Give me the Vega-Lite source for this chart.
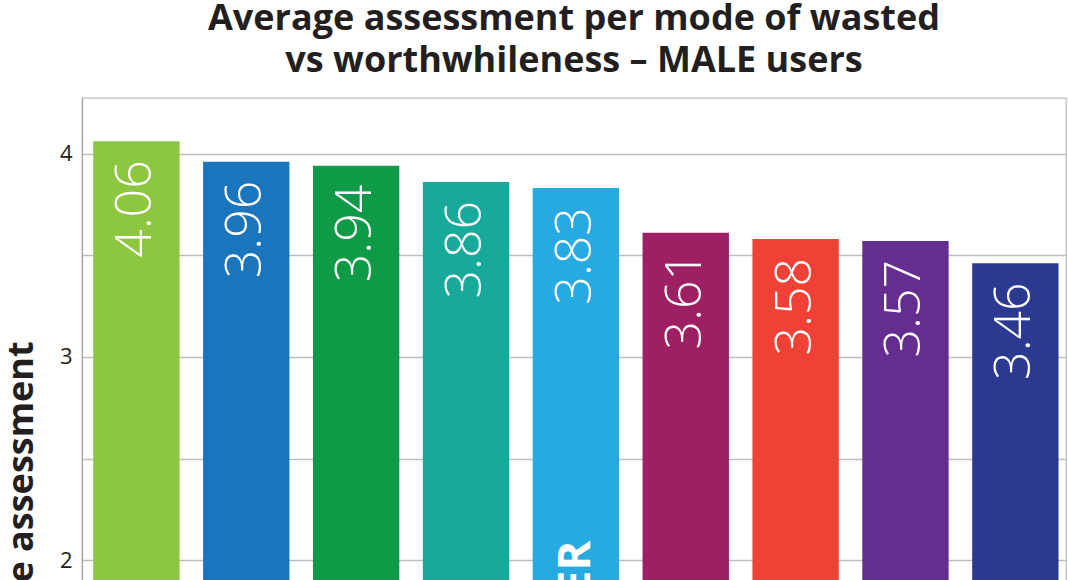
{
  "$schema": "https://vega.github.io/schema/vega-lite/v6.json",
  "autosize": {"type": "none"},
  "width": 984,
  "height": 869,
  "padding": {"left": 82, "top": 98, "right": 2, "bottom": 0},
  "background": "white",
  "title": {
    "text": ["Average assessment per mode of wasted", "vs worthwhileness – MALE users"],
    "anchor": "middle",
    "font": "Open Sans",
    "fontSize": 36,
    "fontWeight": 700,
    "color": "#231f20",
    "lineHeight": 42,
    "baseline": "bottom",
    "offset": 19,
    "dy": 37
  },
  "config": {
    "view": {"stroke": "#bcbec0", "strokeWidth": 1.3},
    "font": "Open Sans"
  },
  "data": {
    "values": [
      {"mode": "WALK", "value": 4.06, "colour": "c1"},
      {"mode": "BIKE", "value": 3.96, "colour": "c2"},
      {"mode": "TRAIN", "value": 3.94, "colour": "c3"},
      {"mode": "TRAM", "value": 3.86, "colour": "c4"},
      {"mode": "CAR PASSENGER", "value": 3.83, "colour": "c5"},
      {"mode": "BUS", "value": 3.61, "colour": "c6"},
      {"mode": "CAR DRIVER", "value": 3.58, "colour": "c7"},
      {"mode": "MOTORBIKE", "value": 3.57, "colour": "c8"},
      {"mode": "OTHER", "value": 3.46, "colour": "c9"}
    ]
  },
  "encoding": {
    "x": {
      "field": "mode",
      "type": "nominal",
      "sort": null,
      "axis": null,
      "scale": {"paddingInner": 0.214, "paddingOuter": 0.085, "align": 0.6}
    }
  },
  "layer": [
    {
      "mark": {"type": "bar"},
      "encoding": {
        "y": {
          "field": "value",
          "type": "quantitative",
          "scale": {"domain": [0, 4.273], "nice": false, "zero": true},
          "axis": {
            "values": [0, 0.5, 1, 1.5, 2, 2.5, 3, 3.5, 4],
            "labelExpr": "datum.value % 1 === 0 ? format(datum.value, 'd') : ''",
            "grid": true,
            "gridColor": "#bcbec0",
            "gridWidth": 1.3,
            "domainColor": "#a7a9ac",
            "domainWidth": 1.3,
            "ticks": false,
            "labelPadding": 10,
            "labelFont": "Open Sans",
            "labelFontSize": 22,
            "labelColor": "#231f20",
            "title": "Average assessment",
            "titleFont": "Open Sans",
            "titleFontSize": 36,
            "titleFontWeight": 700,
            "titleColor": "#231f20",
            "titleAngle": 270,
            "titleAlign": "center",
            "titleBaseline": "bottom",
            "titleX": -42,
            "titleY": 426
          }
        },
        "color": {
          "field": "colour",
          "type": "nominal",
          "legend": null,
          "scale": {
            "domain": ["c1", "c2", "c3", "c4", "c5", "c6", "c7", "c8", "c9"],
            "range": ["#8dc63f", "#1b75bc", "#0f9a48", "#17a99a", "#27aae1", "#9e1f63", "#ef4136", "#662d91", "#2b3990"]
          }
        }
      }
    },
    {
      "mark": {
        "type": "text",
        "angle": 270,
        "align": "right",
        "baseline": "middle",
        "dx": -19,
        "font": "Open Sans",
        "fontWeight": 300,
        "fontSize": 50,
        "color": "white"
      },
      "encoding": {
        "y": {"field": "value", "type": "quantitative"},
        "text": {"field": "value", "type": "quantitative", "format": ".2f"}
      }
    },
    {
      "mark": {
        "type": "text",
        "angle": 270,
        "align": "left",
        "baseline": "middle",
        "dx": 67,
        "font": "Open Sans",
        "fontWeight": 700,
        "fontSize": 45,
        "color": "white"
      },
      "encoding": {
        "y": {"datum": 0, "type": "quantitative"},
        "text": {"field": "mode", "type": "nominal"}
      }
    }
  ]
}
